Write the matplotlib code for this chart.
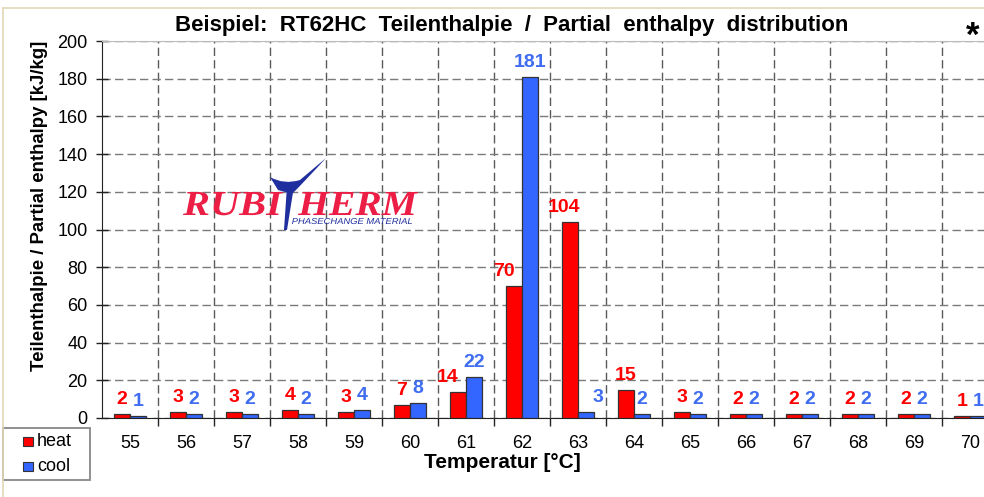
#!/usr/bin/env python3
"""RT62HC partial enthalpy distribution (heat / cool) bar chart."""

import matplotlib

matplotlib.use("Agg")
import matplotlib.pyplot as plt
import numpy as np
from matplotlib.font_manager import FontProperties
from matplotlib.lines import Line2D
from matplotlib.patches import PathPatch, Rectangle
from matplotlib.path import Path
from matplotlib.textpath import TextPath
from matplotlib.transforms import Affine2D

temperatures = [55, 56, 57, 58, 59, 60, 61, 62, 63, 64, 65, 66, 67, 68, 69, 70]
heat_values = [2, 3, 3, 4, 3, 7, 14, 70, 104, 15, 3, 2, 2, 2, 2, 1]
cool_values = [1, 2, 2, 2, 4, 8, 22, 181, 3, 2, 2, 2, 2, 2, 2, 1]
y_ticks = [0, 20, 40, 60, 80, 100, 120, 140, 160, 180, 200]
series_names = ["heat", "cool"]

HEAT_COLOR = "#ff0000"
COOL_COLOR = "#3366ff"
LABEL_BLUE = "#3f6cf0"
GRID_COLOR = "#5a5a5a"
FONT = ["Liberation Sans", "DejaVu Sans"]

# pixel nudges for labels Excel moved sideways
label_nudge = {("heat", 6): -10, ("heat", 7): -10, ("heat", 8): -6, ("cool", 8): 12}

W, H = 984, 497

plt.rcParams.update({"font.family": FONT})

fig = plt.figure(figsize=(W / 100, H / 100), dpi=100)
ax = fig.add_axes([102 / W, 1 - 418 / H, 896 / W, 377 / H])

x = np.arange(len(temperatures))
bw = 0.286
ax.bar(x - bw / 2, heat_values, bw, color=HEAT_COLOR, edgecolor="#333333", linewidth=0.9, zorder=3)
ax.bar(x + bw / 2, cool_values, bw, color=COOL_COLOR, edgecolor="#333333", linewidth=0.9, zorder=3)

for name, vals, col, sgn in (("heat", heat_values, HEAT_COLOR, -1), ("cool", cool_values, LABEL_BLUE, 1)):
    for i, v in enumerate(vals):
        ax.annotate(
            str(v),
            (x[i] + sgn * bw / 2, v),
            xytext=(label_nudge.get((name, i), 0), 6),
            textcoords="offset pixels",
            ha="center",
            va="bottom",
            fontsize=14,
            fontweight="bold",
            color=col,
            zorder=4,
        )

ax.set_xlim(-0.5, len(temperatures) - 0.5)
ax.set_ylim(0, 200)
ax.set_yticks(y_ticks)
ax.set_yticklabels([str(t) for t in y_ticks], fontsize=13)
ax.set_xticks(x[:-1] + 0.5)
ax.set_xticklabels([])
ax.set_xticks(x, minor=True)
ax.set_xticklabels([str(t) for t in temperatures], minor=True, fontsize=13)
ax.tick_params(axis="x", which="major", direction="out", length=6, width=1, color="#222222")
ax.tick_params(axis="x", which="minor", length=0, pad=12)
ax.tick_params(axis="y", direction="inout", length=9, width=1, color="#222222", pad=6)

ax.grid(True, axis="y", color="#7a7a7a", linestyle=(0, (6, 3)), linewidth=1.0, zorder=0)
ax.grid(True, axis="x", which="major", color=GRID_COLOR, linestyle=(0, (6, 3)), linewidth=1.0, zorder=0)
ax.set_axisbelow(True)
ax.spines["right"].set_visible(False)
ax.spines["top"].set_color("#bbbbbb")
ax.spines["left"].set_color("#222222")
ax.spines["bottom"].set_color("#222222")

fig.text(512 / W, 1 - 25 / H, "Beispiel:  RT62HC  Teilenthalpie  /  Partial  enthalpy  distribution",
         ha="center", va="center", fontsize=16, fontweight="bold")
fig.text(973 / W, 1 - 36 / H, "*", ha="center", va="center", fontsize=25, fontweight="bold")
fig.text(40 / W, 1 - 206 / H, "Teilenthalpie / Partial enthalpy [kJ/kg]", rotation=90,
         ha="center", va="center", fontsize=13.4, fontweight="bold")
fig.text(502 / W, 1 - 463 / H, "Temperatur [°C]", ha="center", va="center",
         fontsize=15, fontweight="bold")

# overlay in pixel coordinates for legend box, logo and the image border
ov = fig.add_axes([0, 0, 1, 1], zorder=5)
ov.set_xlim(0, W)
ov.set_ylim(H, 0)
ov.axis("off")
ov.patch.set_alpha(0)

ov.add_line(Line2D([3, 3], [8, H], color="#e0d8b8", linewidth=1.2))
ov.add_line(Line2D([3, W], [8, 8], color="#e0d8b8", linewidth=1.2))

# legend (Excel style box)
ov.add_patch(Rectangle((3, 428), 87, 52, facecolor="white", edgecolor="#888888", linewidth=1.3))
for k, (name, col) in enumerate(zip(series_names, [HEAT_COLOR, COOL_COLOR])):
    yc = 441.5 + k * 25
    ov.add_patch(Rectangle((23, yc - 5), 9.5, 9.5, facecolor=col, edgecolor="#333333", linewidth=0.8))
    ov.text(37, yc, name, fontsize=13, ha="left", va="center")


def fitted_text(s, x0, x1, baseline, height, color, prop):
    tp = TextPath((0, 0), s, size=100, prop=prop)
    ext = tp.get_extents()
    tr = (Affine2D().translate(-ext.x0, 0)
          .scale((x1 - x0) / ext.width, -height / ext.y1)
          .translate(x0, baseline))
    ov.add_patch(PathPatch(tr.transform_path(tp), facecolor=color, edgecolor="none"))


logo_red = "#ec1e45"
logo_blue = "#1f2f9e"
serif_bi = FontProperties(family="Liberation Serif", weight="bold", style="italic")
sans_i = FontProperties(family="Liberation Sans", style="italic")
fitted_text("RUBI", 183, 283, 215, 23, logo_red, serif_bi)
fitted_text("HERM", 298, 418, 215, 23, logo_red, serif_bi)
fitted_text("PHASECHANGE MATERIAL", 292, 412, 224, 6, logo_blue, sans_i)

swoosh = Path(
    [(270, 177), (284, 185), (300, 180), (326, 158),
     (306, 180), (292, 194), (278, 190), (270, 177)],
    [Path.MOVETO, Path.CURVE3, Path.CURVE3, Path.LINETO,
     Path.CURVE3, Path.CURVE3, Path.LINETO, Path.CLOSEPOLY],
)
ov.add_patch(PathPatch(swoosh, facecolor=logo_blue, edgecolor="none"))
stem = Path([(287, 186), (294, 186), (287, 230), (284, 230), (287, 186)],
            [Path.MOVETO, Path.LINETO, Path.LINETO, Path.LINETO, Path.CLOSEPOLY])
ov.add_patch(PathPatch(stem, facecolor=logo_blue, edgecolor="none"))

fig.savefig("out.png", dpi=100)
